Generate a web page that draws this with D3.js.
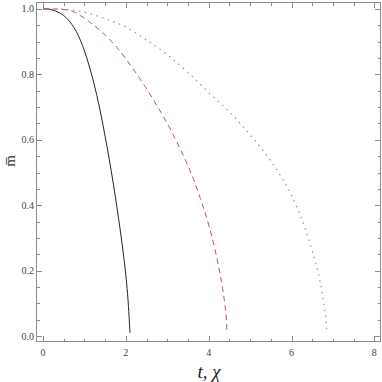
<!DOCTYPE html>
<html><head><meta charset="utf-8">
<script src="https://cdn.jsdelivr.net/npm/d3@7"></script>
<style>body{margin:0;background:#fff}svg{display:block}</style>
</head><body>
<svg id="c" width="382" height="382"></svg>
<script>
// Data
const tBlack = [0, 0.1, 0.2, 0.3, 0.4, 0.5, 0.6, 0.7, 0.8, 0.9, 1.0, 1.1, 1.2, 1.3, 1.4, 1.5, 1.6, 1.7, 1.8, 1.9, 1.95, 2.0, 2.04, 2.07, 2.09, 2.1];
const mBlack = [1.0, 1.0, 0.998, 0.994, 0.988, 0.98, 0.968, 0.952, 0.932, 0.905, 0.872, 0.832, 0.787, 0.735, 0.676, 0.61, 0.54, 0.463, 0.38, 0.29, 0.24, 0.185, 0.13, 0.075, 0.03, 0.01];
const tPink = [0, 0.3, 0.6, 0.9, 1.2, 1.5, 1.8, 2.1, 2.4, 2.7, 3.0, 3.3, 3.6, 3.8, 4.0, 4.15, 4.25, 4.33, 4.39, 4.43, 4.44];
const mPink = [1.0, 1.0, 0.997, 0.98, 0.953, 0.92, 0.88, 0.83, 0.775, 0.715, 0.65, 0.575, 0.49, 0.42, 0.34, 0.265, 0.205, 0.15, 0.095, 0.04, 0.01];
const tOlive = [0, 0.4, 0.8, 1.2, 1.6, 2.0, 2.5, 3.0, 3.5, 4.0, 4.5, 5.0, 5.5, 6.0, 6.3, 6.5, 6.65, 6.75, 6.82, 6.85];
const mOlive = [1.0, 1.0, 0.995, 0.983, 0.966, 0.945, 0.905, 0.86, 0.806, 0.745, 0.685, 0.615, 0.535, 0.43, 0.34, 0.26, 0.19, 0.125, 0.06, 0.015];
const xMajor = [0, 2, 4, 6, 8];
const yMajor = [0, 0.2, 0.4, 0.6, 0.8, 1.0];
const xLabels = ["0", "2", "4", "6", "8"];
const yLabels = ["0.0", "0.2", "0.4", "0.6", "0.8", "1.0"];

const svg = d3.select("#c");
const L = 36, R = 381, T = 2, B = 342;
const x = d3.scaleLinear().domain([-0.17, 8.16]).range([L, R]);
const y = d3.scaleLinear().domain([-0.0183, 1.0214]).range([B, T]);

const frameColor = "#8c8c8c";
const xMinor = d3.range(0, 8.01, 0.5).filter(v => !xMajor.includes(v));
const yMinor = d3.range(0, 1.001, 0.05).map(v => +v.toFixed(2)).filter(v => !yMajor.some(m => Math.abs(m - v) < 1e-6));

// ticks
const g = svg.append("g").attr("stroke", frameColor).attr("stroke-width", 1).attr("shape-rendering", "crispEdges");
function vt(v, len, bottom) {
  const px = Math.round(x(v)) + 0.5;
  if (bottom) g.append("line").attr("x1", px).attr("x2", px).attr("y1", B).attr("y2", B - len);
  else g.append("line").attr("x1", px).attr("x2", px).attr("y1", T).attr("y2", T + len);
}
function ht(v, len, left) {
  const py = Math.round(y(v)) + 0.5;
  if (left) g.append("line").attr("y1", py).attr("y2", py).attr("x1", L).attr("x2", L + len);
  else g.append("line").attr("y1", py).attr("y2", py).attr("x1", R).attr("x2", R - len);
}
xMajor.forEach(v => { vt(v, 6, true); vt(v, 6, false); });
xMinor.forEach(v => { vt(v, 3.5, true); vt(v, 3.5, false); });
yMajor.forEach(v => { ht(v, 6, true); ht(v, 6, false); });
yMinor.forEach(v => { ht(v, 3.5, true); ht(v, 3.5, false); });

// frame
svg.append("rect").attr("x", L + 0.5).attr("y", T + 0.5).attr("width", R - L - 1).attr("height", B - T - 1)
  .attr("fill", "none").attr("stroke", frameColor).attr("stroke-width", 1).attr("shape-rendering", "crispEdges");

// tick labels
const tf = "'Liberation Serif', 'Times New Roman', serif";
svg.append("g").selectAll("text").data(xMajor).join("text")
  .attr("x", d => x(d)).attr("y", 356).attr("text-anchor", "middle")
  .attr("font-family", tf).attr("font-size", 10).attr("fill", "#444")
  .text((d, i) => xLabels[i]);
svg.append("g").selectAll("text").data(yMajor).join("text")
  .attr("x", 34).attr("y", d => y(d) + 3.5).attr("text-anchor", "end")
  .attr("font-family", tf).attr("font-size", 10).attr("fill", "#444")
  .text((d, i) => yLabels[i]);

// axis labels
svg.append("text").attr("x", 209).attr("y", 378).attr("text-anchor", "middle")
  .attr("font-family", tf).attr("font-style", "italic").attr("font-size", 19).attr("fill", "#222")
  .text("t, χ");
svg.append("text").attr("transform", "translate(15,161) rotate(-90)").attr("text-anchor", "middle")
  .attr("font-family", tf).attr("font-size", 15).attr("fill", "#333")
  .text("m\u0305");

// curves
const line = d3.line().x(d => x(d[0])).y(d => y(d[1])).curve(d3.curveMonotoneX);
const series = [
  { t: tBlack, m: mBlack, color: "#222", dash: null, w: 1 },
  { t: tPink, m: mPink, color: "#b5508e", dash: "5.5,4", w: 1 },
  { t: tOlive, m: mOlive, color: "#b0945a", dash: "1.5,4.5", w: 1.2 }
];
series.forEach(s => {
  svg.append("path").datum(s.t.map((t, i) => [t, s.m[i]]))
    .attr("d", line).attr("fill", "none").attr("stroke", s.color)
    .attr("stroke-width", s.w).attr("stroke-dasharray", s.dash);
});
</script>
</body></html>
